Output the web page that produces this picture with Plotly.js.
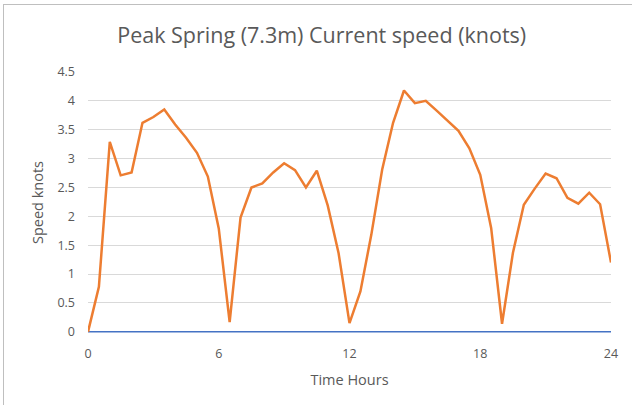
<!DOCTYPE html>
<html>
<head>
<meta charset="utf-8">
<script src="https://cdn.plot.ly/plotly-3.0.1.min.js"></script>
<style>
  html, body { margin: 0; padding: 0; background: #fff; }
  #wrap { position: relative; width: 632px; height: 405px; overflow: hidden; }
  #frame { position: absolute; left: 3px; top: 4px; right: -5px; bottom: -5px;
           border-left: 1.5px solid #bfbfbf; border-top: 1.5px solid #bfbfbf; pointer-events: none; }
  #chart { position: absolute; left: 0; top: 0; width: 632px; height: 405px; }
</style>
</head>
<body>
<div id="wrap">
  <div id="chart"></div>
  <div id="frame"></div>
</div>
<script>
const timeHours = [0,0.5,1,1.5,2,2.5,3,3.5,4,4.5,5,5.5,6,6.5,7,7.5,8,8.5,9,9.5,10,10.5,11,11.5,12,12.5,13,13.5,14,14.5,15,15.5,16,16.5,17,17.5,18,18.5,19,19.5,20,20.5,21,21.5,22,22.5,23,23.5,24];
const speedKnots = [0,0.78,3.29,2.71,2.76,3.62,3.72,3.85,3.59,3.36,3.10,2.69,1.79,0.17,1.98,2.50,2.57,2.76,2.92,2.80,2.50,2.79,2.19,1.36,0.15,0.70,1.68,2.81,3.62,4.18,3.96,4.00,3.83,3.65,3.48,3.18,2.72,1.80,0.14,1.37,2.20,2.48,2.74,2.66,2.32,2.22,2.41,2.21,1.20];
const baselineTimes = [0,24];
const baselineValues = [0,0];
const xTicks = [0,6,12,18,24];
const yTicks = [0,0.5,1,1.5,2,2.5,3,3.5,4,4.5];
const titleText = 'Peak Spring (7.3m) Current speed (knots)';
const xTitle = 'Time Hours';
const yTitle = 'Speed knots';

const font = 'Open Sans, DejaVu Sans, sans-serif';
const grey = '#595959';

const traces = [
  { x: baselineTimes, y: baselineValues, mode: 'lines', line: {color: '#4472C4', width: 1.5}, hoverinfo: 'skip' },
  { x: timeHours, y: speedKnots, mode: 'lines', line: {color: '#ED7D31', width: 2.5}, hoverinfo: 'skip' }
];

const layout = {
  width: 632, height: 405,
  margin: {l: 88, r: 21, t: 72, b: 72},
  paper_bgcolor: '#ffffff', plot_bgcolor: '#ffffff',
  showlegend: false,
  font: {family: font, color: grey, size: 12},
  title: {text: titleText, font: {family: font, size: 21.5, color: grey}, x: 0.509, xref: 'container', xanchor: 'center', y: 0.912, yref: 'container', yanchor: 'middle'},
  xaxis: {
    range: [0, 24], tickvals: xTicks, ticktext: xTicks.map(String),
    showgrid: false, zeroline: false, showline: false, ticks: '',
    ticklabelstandoff: 11,
    tickfont: {family: font, size: 12.5, color: grey},
    title: {text: xTitle, font: {family: font, size: 14.5, color: grey}, standoff: 14}
  },
  yaxis: {
    range: [-0.02, 4.5], tickvals: yTicks, ticktext: yTicks.map(String),
    showgrid: true, gridcolor: '#d9d9d9', gridwidth: 1,
    zeroline: false, showline: false, ticks: '',
    ticklabelstandoff: 12,
    tickfont: {family: font, size: 12.5, color: grey},
    title: {text: yTitle, font: {family: font, size: 14.5, color: grey}, standoff: 10}
  }
};

Plotly.newPlot('chart', traces, layout, {staticPlot: true, displayModeBar: false});
</script>
</body>
</html>
